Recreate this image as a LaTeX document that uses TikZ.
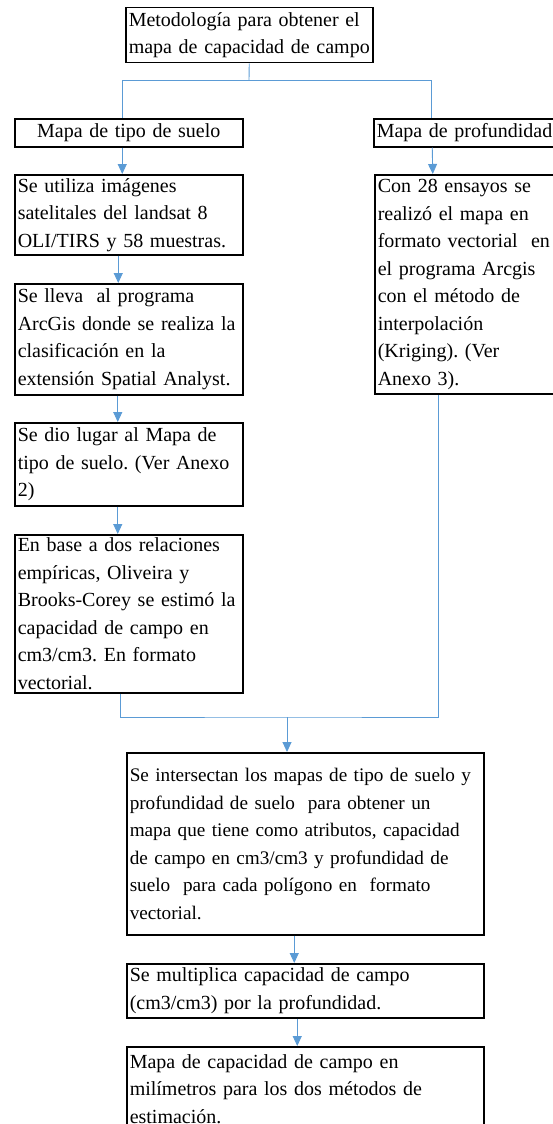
\documentclass[tikz,border=0pt]{standalone}
\usepackage{fontspec}
\setmainfont{Liberation Serif}
\usetikzlibrary{arrows.meta}
\definecolor{azul}{RGB}{91,155,213}
\frenchspacing

\tikzset{
  caja/.style={draw, line width=1.5pt, anchor=north west, align=left,
    inner xsep=3pt, inner ysep=0pt, font=\fontsize{20}{27.5}\selectfont},
  linea/.style={draw=azul, line width=0.9pt},
  flecha/.style={linea, -{Triangle[width=9pt,length=10pt]}}
}

\begin{document}
\begin{tikzpicture}[x=1pt, y=-1pt]
  \useasboundingbox (0,0) rectangle (552,1124);
  % cajas
  \node[caja, text width=241, minimum height=55] (top) at (125,7)
    {Metodolog\'ia para obtener el\\ mapa de capacidad de campo};
  \node[caja, text width=222, minimum height=28, align=center] (tipo) at (14,118)
    {Mapa de tipo de suelo};
  \node[caja, text width=222, minimum height=80] (sat) at (14,174)
    {Se utiliza im\'agenes\\ satelitales del landsat 8\\ OLI/TIRS y 58 muestras.};
  \node[caja, text width=222, minimum height=111] (arc) at (14,283)
    {Se lleva\ \ al programa\\ ArcGis donde se realiza la\\ clasificaci\'on en la\\ extensi\'on Spatial Analyst.};
  \node[caja, text width=222, minimum height=83] (dio) at (14,422)
    {Se dio lugar al Mapa de\\ tipo de suelo. (Ver Anexo\\ 2)};
  \node[caja, text width=222, minimum height=158] (emp) at (14,534)
    {En base a dos relaciones\\ emp\'iricas, Oliveira y\\ Brooks-Corey se estim\'o la\\ capacidad de campo en\\ cm3/cm3. En formato\\ vectorial.};
  \node[caja, text width=182, minimum height=28] (prof) at (373,118)
    {Mapa de profundidad};
  \node[caja, text width=181, minimum height=219] (krig) at (374,174)
    {Con 28 ensayos se\\ realiz\'o el mapa en\\ formato vectorial\ \ en\\ el programa Arcgis\\ con el m\'etodo de\\ interpolaci\'on\\ (Kriging). (Ver\\ Anexo 3).};
  \node[caja, text width=351, minimum height=182, font=\fontsize{19.2}{27.5}\selectfont] (inter) at (126,752)
    {Se intersectan los mapas de tipo de suelo y\\ profundidad de suelo\ \ para obtener un\\ mapa que tiene como atributos, capacidad\\ de campo en cm3/cm3 y profundidad de\\ suelo\ \ para cada pol\'igono en\ \ formato\\ vectorial.};
  \node[caja, text width=351, minimum height=54] (mult) at (126,963)
    {Se multiplica capacidad de campo\\ (cm3/cm3) por la profundidad.};
  \node[caja, text width=351, minimum height=84] (final) at (126,1046)
    {Mapa de capacidad de campo en\\ mil\'imetros para los dos m\'etodos de\\ estimaci\'on.};

  % conectores
  \coordinate (rama) at (249,80);
  \coordinate (junta) at (287,717);
  \draw[linea] (top.south) -- (rama);
  \draw[linea] (rama) -| ([xshift=-6.5]tipo.north);
  \draw[linea] (rama) -| ([xshift=-36.5]prof.north);
  \draw[flecha] ([xshift=-6.5]tipo.south) -- ([xshift=-6.5]sat.north);
  \draw[flecha] ([xshift=-10.5]sat.south) -- ([xshift=-10.5]arc.north);
  \draw[flecha] ([xshift=-11]arc.south) -- ([xshift=-11]dio.north);
  \draw[flecha] ([xshift=-11]dio.south) -- ([xshift=-11]emp.north);
  \draw[flecha] ([xshift=-35.5]prof.south) -- ([xshift=-35.5]krig.north);
  \draw[linea] ([xshift=-8.5]emp.south) |- (junta) -| ([xshift=-29.5]krig.south);
  \draw[flecha] (junta) -- (inter.north -| junta);
  \draw[flecha] ([xshift=-11]inter.south) -- ([xshift=-11]mult.north);
  \draw[flecha] ([xshift=-8]mult.south) -- ([xshift=-8]final.north);
\end{tikzpicture}
\end{document}
